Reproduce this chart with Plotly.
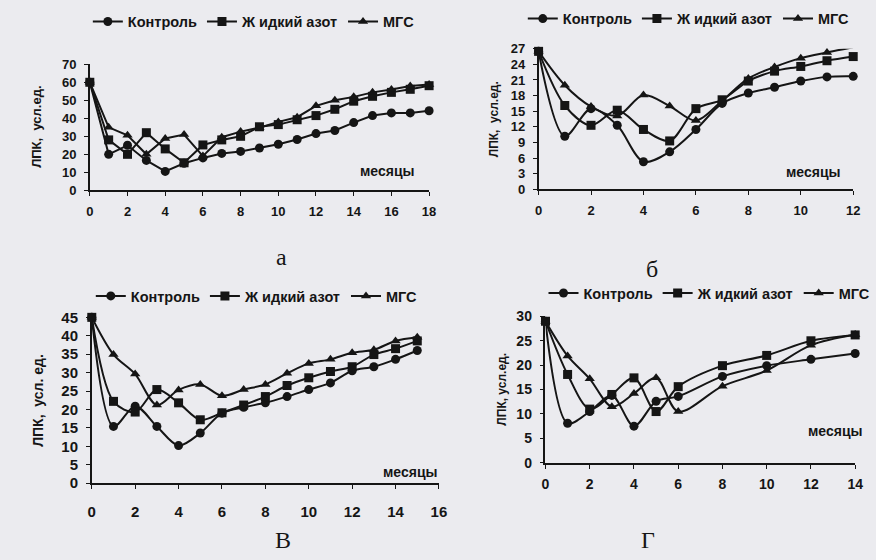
import plotly.graph_objects as go

# ---------------- DATA ----------------
series_names = ["Контроль", "Ж идкий азот", "МГС"]

months_a = list(range(0, 19))
ctrl_a = [60, 20, 25, 16.6, 10.5, 15, 18, 20.5, 21.6, 23.5, 25.6, 28.2, 31.5, 33.2, 37.6, 41.5, 43, 43, 44.2]
azot_a = [60, 28, 20, 32, 23, 15.3, 25.2, 28, 30, 35.3, 36.5, 39.2, 41.5, 45, 49.5, 52.2, 54.4, 56.1, 58.1]
mgs_a = [60, 35, 30.6, 20, 28.8, 31, 19, 29.5, 32.6, 34.8, 38, 40.6, 46.9, 50, 51.9, 54.4, 56, 57.9, 58.8]

months_b = list(range(0, 13))
ctrl_b = [26.5, 10.2, 15.5, 12.3, 5.3, 7.2, 11.5, 16.5, 18.5, 19.6, 20.8, 21.6, 21.7]
azot_b = [26.5, 16.1, 12.3, 15.2, 11.5, 9.3, 15.5, 17.2, 20.8, 22.7, 23.6, 24.7, 25.5]
mgs_b = [26.5, 20, 15.9, 14.1, 18.1, 16, 13.2, 17, 21.3, 23.5, 25.2, 26.3, 27.3]

months_v = list(range(0, 16))
ctrl_v = [45, 15.4, 20.9, 15.4, 10.2, 13.6, 19, 20.6, 21.8, 23.5, 25.4, 27.2, 30.5, 31.6, 33.6, 36]
azot_v = [45, 22.2, 19.3, 25.4, 21.8, 17.2, 19.1, 21.2, 23.5, 26.5, 28.6, 30.3, 31.6, 34.9, 36.5, 38.6]
mgs_v = [45, 34.9, 29.6, 21.2, 25.3, 26.8, 23.7, 25.4, 26.8, 29.8, 32.5, 33.6, 35.4, 36.2, 38.6, 39.6]

months_g = [0, 1, 2, 3, 4, 5, 6, 8, 10, 12, 14]
ctrl_g = [29, 8.1, 10.5, 13.8, 7.5, 12.6, 13.6, 17.7, 19.9, 21.2, 22.4]
azot_g = [29, 18.1, 11, 14, 17.4, 10.5, 15.6, 19.9, 22, 25, 26.2]
mgs_g = [29, 21.9, 17.2, 11.5, 14.2, 17.4, 10.5, 15.7, 18.9, 24.1, 26.3]

y_title_a = "ЛПК,  усл.ед."
y_title_b = "ЛПК,  усл.ед."
y_title_v = "ЛПК,  усл. ед."
y_title_g = "ЛПК, усл.ед."
x_title = "месяцы"
panel_labels = ["а", "б", "В", "Г"]

# ---------------- LAYOUT HELPERS ----------------
W, H = 876, 560
BG = "#ebebef"
INK = "#151515"
symbols = ["circle", "square", "triangle-up"]


def px(x):
    return x / W


def py(y):
    return 1 - y / H


fig = go.Figure()

panels = [
    dict(months=months_a, vals=[ctrl_a, azot_a, mgs_a], x0=87, x1=431, ybot=187, ytop=57,
         xr=[0, 18], yr=[0, 70], dy=10, shape="linear", legend="legend", leg=(85, 13),
         ytitle=y_title_a, ytx=33, xtl=(388, 167), lab=(281, 256), fs=13, ysz=13, xso=4),
    dict(months=months_b, vals=[ctrl_b, azot_b, mgs_b], x0=542, x1=861, ybot=186, ytop=41,
         xr=[0, 12], yr=[0, 27], dy=3, shape="spline", legend="legend2", leg=(526, 10),
         ytitle=y_title_b, ytx=497, xtl=(820, 168), lab=(657, 268), fs=13, ysz=12, xso=4),
    dict(months=months_v, vals=[ctrl_v, azot_v, mgs_v], x0=89, x1=441, ybot=489, ytop=318,
         xr=[0, 16], yr=[0, 45], dy=5, shape="spline", legend="legend3", leg=(88, 296),
         ytitle=y_title_v, ytx=35, xtl=(412, 477), lab=(283, 548), fs=15, ysz=14, xso=10),
    dict(months=months_g, vals=[ctrl_g, azot_g, mgs_g], x0=549, x1=863, ybot=468, ytop=317,
         xr=[0, 14], yr=[0, 30], dy=5, shape="spline", legend="legend4", leg=(547, 293),
         ytitle=y_title_g, ytx=505, xtl=(843, 435), lab=(653, 548), fs=14, ysz=12, xso=4),
]

annotations = []
for i, p in enumerate(panels):
    sfx = "" if i == 0 else str(i + 1)
    xa = "x" + sfx
    ya = "y" + sfx
    for k in range(3):
        fig.add_trace(go.Scatter(
            x=p["months"], y=p["vals"][k], name=series_names[k],
            mode="lines+markers", xaxis=xa, yaxis=ya, legend=p["legend"],
            line=dict(color=INK, width=2, shape=p["shape"], smoothing=0.9),
            marker=dict(symbol=symbols[k], size=9, color=INK),
            cliponaxis=False,
        ))
    axfont = dict(family="Liberation Sans, Arial", size=p["fs"], color=INK, weight="bold")
    fig.layout["xaxis" + sfx] = dict(
        domain=[px(p["x0"]), px(p["x1"])], range=p["xr"], anchor=ya,
        showline=True, linecolor=INK, linewidth=1.5, ticks="outside", ticklen=4,
        tickcolor=INK, dtick=2, tick0=0, showgrid=False, zeroline=False,
        tickfont=axfont, fixedrange=True, ticklabelstandoff=p["xso"],
    )
    fig.layout["yaxis" + sfx] = dict(
        domain=[py(p["ybot"]), py(p["ytop"])], range=p["yr"], anchor=xa,
        showline=True, linecolor=INK, linewidth=1.5, ticks="outside", ticklen=4,
        tickcolor=INK, dtick=p["dy"], tick0=0, showgrid=False, zeroline=False,
        tickfont=axfont, fixedrange=True, ticklabelstandoff=5,
    )
    fig.layout[p["legend"]] = dict(
        x=px(p["leg"][0]), y=py(p["leg"][1]), xanchor="left", yanchor="middle",
        orientation="h", bgcolor="rgba(0,0,0,0)", itemwidth=30,
        font=dict(family="Liberation Sans, Arial", size=14.5, color=INK, weight="bold"),
        tracegroupgap=0,
    )
    annotations.append(dict(
        x=px(p["ytx"]), y=(py(p["ybot"]) + py(p["ytop"])) / 2, xref="paper", yref="paper",
        xanchor="center", yanchor="middle",
        text=p["ytitle"], textangle=-90, showarrow=False,
        font=dict(family="Liberation Sans, Arial", size=p["ysz"], color=INK, weight="bold"),
    ))
    annotations.append(dict(
        x=px(p["xtl"][0]), y=py(p["xtl"][1]), xref="paper", yref="paper",
        xanchor="center", yanchor="middle",
        text=x_title, showarrow=False,
        font=dict(family="Liberation Sans, Arial", size=14, color=INK, weight="bold"),
    ))
    annotations.append(dict(
        x=px(p["lab"][0]), y=py(p["lab"][1]), xref="paper", yref="paper",
        xanchor="center", yanchor="middle",
        text=panel_labels[i], showarrow=False,
        font=dict(family="Liberation Serif, Times New Roman", size=24, color=INK),
    ))

fig.update_layout(
    width=W, height=H, margin=dict(l=0, r=0, t=0, b=0),
    paper_bgcolor=BG, plot_bgcolor="rgba(0,0,0,0)",
    annotations=annotations, showlegend=True,
)

fig.write_html("out.html")
